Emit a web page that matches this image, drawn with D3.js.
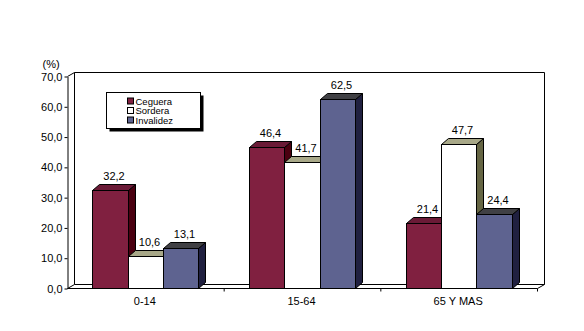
<!DOCTYPE html>
<html><head><meta charset="utf-8">
<script src="https://cdn.jsdelivr.net/npm/d3@7/dist/d3.min.js"></script>
<style>
html,body{margin:0;padding:0;background:#fff;}
svg text{font-family:"Liberation Sans",Arial,sans-serif;fill:#000;}
</style></head>
<body><svg id="c" width="584" height="331"></svg>
<script>
const categories = ["0-14", "15-64", "65 Y MAS"];
const seriesNames = ["Ceguera", "Sordera", "Invalidez"];
const ceguera = [32.2, 46.4, 21.4];
const sordera = [10.6, 41.7, 47.7];
const invalidez = [13.1, 62.5, 24.4];
const yTicks = [0, 10, 20, 30, 40, 50, 60, 70];
const values = [ceguera, sordera, invalidez];

const svg = d3.select("#c");
const defs = svg.append("defs");
const pat = defs.append("pattern").attr("id","dots").attr("width",2).attr("height",2)
  .attr("patternUnits","userSpaceOnUse");
pat.append("rect").attr("width",2).attr("height",2).attr("fill","#5c6290");
pat.append("rect").attr("width",1).attr("height",1).attr("fill","#6e72a0");
pat.append("rect").attr("x",1).attr("y",1).attr("width",1).attr("height",1).attr("fill","#50557f");

const styles = [
  {front:"#802040", top:"#6a1a36", side:"#4a0010"},
  {front:"#ffffff", top:"#a8a888", side:"#666644"},
  {front:"url(#dots)", top:"#404044", side:"#202040"}
];

const g = svg.append("g").attr("transform","translate(0.5,0.5)");
const y = d3.scaleLinear().domain([0,70]).range([288,76]);
const x = d3.scaleBand().domain(categories).range([67,537]).paddingInner(0).paddingOuter(0);
const inner = d3.scaleBand().domain(seriesNames).range([0,x.bandwidth()]).paddingOuter(0.72).paddingInner(0);
const wdx = 7, wdy = -4;   // wall depth
const bdx = 7, bdy = -6;   // bar depth
const x0 = x.range()[0], x1 = x.range()[1];

// back wall & floor
g.append("path").attr("fill","none").attr("stroke","#000")
  .attr("d",`M${x0+wdx},${y(0)+wdy}V${y(70)+wdy}H${x1+wdx}V${y(0)+wdy}`);
g.append("path").attr("fill","none").attr("stroke","#000")
  .attr("d",`M${x0},${y(0)}L${x0+wdx},${y(0)+wdy}H${x1+wdx}L${x1},${y(0)}`);
g.append("path").attr("fill","none").attr("stroke","#000")
  .attr("d",`M${x0},${y(70)}L${x0+wdx},${y(70)+wdy}`);

// bars
const fmt = v => v.toFixed(1).replace(".",",");
categories.forEach((cat,ci)=>{
  seriesNames.forEach((s,si)=>{
    const v = values[si][ci];
    const bx = Math.round(x(cat)+inner(s));
    const bw = Math.round(x(cat)+inner(s)+inner.bandwidth()) - bx;
    const yt = Math.round(y(v)), yb = y(0);
    const st = styles[si];
    const bg = g.append("g");
    bg.append("path").attr("fill",st.side).attr("stroke","#000")
      .attr("d",`M${bx+bw},${yt}L${bx+bw+bdx},${yt+bdy}V${yb+bdy}L${bx+bw},${yb}Z`);
    bg.append("path").attr("fill",st.top).attr("stroke","#000")
      .attr("d",`M${bx},${yt}L${bx+bdx},${yt+bdy}H${bx+bw+bdx}L${bx+bw},${yt}Z`);
    bg.append("rect").attr("x",bx).attr("y",yt).attr("width",bw).attr("height",yb-yt)
      .attr("fill",st.front).attr("stroke","#000");
    g.append("text").attr("x",bx+bw/2+bdx/2).attr("y",yt-11)
      .attr("text-anchor","middle").attr("font-size","11px").text(fmt(v));
  });
});

// y axis
const ya = d3.axisLeft(y).tickValues(yTicks).tickFormat(fmt).tickSize(3).tickSizeOuter(0).tickPadding(2);
const yg = g.append("g").attr("transform",`translate(${x0},0)`).call(ya);
yg.selectAll("path,line").attr("stroke","#000");
yg.selectAll("text").attr("font-size","11px").attr("font-family","Liberation Sans, Arial, sans-serif").attr("fill","#000");

// x axis
g.append("line").attr("x1",x0).attr("x2",x1).attr("y1",y(0)).attr("y2",y(0)).attr("stroke","#000");
categories.forEach(cat=>{
  const tx = x(cat)+x.bandwidth();
  g.append("line").attr("x1",tx).attr("x2",tx).attr("y1",y(0)).attr("y2",y(0)+3).attr("stroke","#000");
  g.append("text").attr("x",x(cat)+x.bandwidth()/2-1).attr("y",304)
    .attr("text-anchor","middle").attr("font-size","11px").text(cat);
});

g.append("text").attr("x",42).attr("y",67).attr("font-size","11px").text("(%)");

// legend
const lg = g.append("g").attr("transform","translate(106,92)");
lg.append("rect").attr("x",3).attr("y",3).attr("width",94).attr("height",36).attr("fill","#000");
lg.append("rect").attr("width",94).attr("height",36).attr("fill","#fff").attr("stroke","#000");
seriesNames.forEach((s,i)=>{
  const ry = 5.5 + i*9.5;
  lg.append("rect").attr("x",21).attr("y",ry).attr("width",6).attr("height",6)
    .attr("fill",styles[i].front).attr("stroke","#000");
  lg.append("text").attr("x",29).attr("y",ry+6.5).attr("font-size","9.5px").text(s);
});
</script></body></html>
